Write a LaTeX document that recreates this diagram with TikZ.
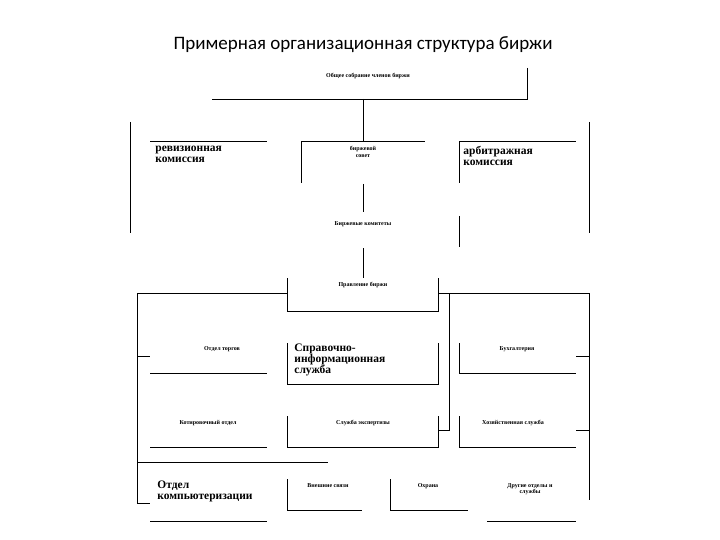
\documentclass[tikz,border=0pt]{standalone}
\usepackage{fontspec}
\setmainfont{Liberation Serif}
\newfontfamily\titlefont{Carlito}
\begin{document}
\begin{tikzpicture}[x=1pt,y=-1pt,line width=0.8pt,
    small/.style={font=\bfseries\fontsize{6}{6.5}\selectfont,inner sep=0pt,align=center},
    big/.style={font=\bfseries\fontsize{11.5}{11}\selectfont,inner sep=0pt,align=left,anchor=north west}]
    \useasboundingbox (0,0) rectangle (720,540);

    % Title
    \node[font=\titlefont\fontsize{19}{19}\selectfont] (title) at (363,45) {Примерная организационная структура биржи};

    % General meeting
    \node[small] (meeting) at (368,76) {Общее собрание членов биржи};
    \draw (527,68) -- (527,99) -- (212,99);
    \draw (363,99) -- (363,141);

    % Council and commissions
    \draw (130,122) -- (130,233);
    \draw (150,141) -- (267,141);
    \node[big] (audit) at (155,146) {ревизионная\\комиссия};
    \draw (301,183) -- (301,141) -- (425,141);
    \node[small] (council) at (363,152) {биржевой\\совет};
    \draw (459,183) -- (459,141) -- (576,141);
    \draw (459,216) -- (459,247);
    \node[big] (arbitr) at (463,146) {арбитражная\\комиссия};
    \draw (589,122) -- (589,233);

    % Committees and board
    \draw (363,184) -- (363,212);
    \node[small] (committees) at (363,224) {Биржевые комитеты};
    \draw (363,248) -- (363,278);
    \node[small] (board) at (363,285) {Правление биржи};
    \draw (287,278) -- (287,311) -- (438,311) -- (438,278);

    % Side branches
    \draw (287,293) -- (137,293) -- (137,503) -- (150,503);
    \draw (137,356) -- (150,356);
    \draw (137,462) -- (328,462);
    \draw (438,293) -- (449,293) -- (449,430) -- (438,430);
    \draw (450,293) -- (589,293) -- (589,500);
    \draw (576,356) -- (589,356);
    \draw (576,430) -- (589,430);

    % Departments
    \node[small] (trade) at (222,349) {Отдел торгов};
    \draw (150,373) -- (267,373);
    \node[big] (info) at (294,343) {Справочно-\\информационная\\служба};
    \draw (287,343) -- (287,384) -- (438,384) -- (438,343);
    \node[small] (account) at (517,349) {Бухгалтерия};
    \draw (459,343) -- (459,373) -- (576,373);

    \node[small] (quote) at (208,423) {Котировочный отдел};
    \draw (150,447) -- (267,447);
    \node[small] (expert) at (363,423) {Служба экспертизы};
    \draw (287,416) -- (287,447) -- (438,447) -- (438,416);
    \node[small] (house) at (513,423) {Хозяйственная служба};
    \draw (459,416) -- (459,447) -- (576,447);

    \node[big] (comp) at (157,480) {Отдел\\компьютеризации};
    \draw (150,521) -- (267,521);
    \node[small] (extern) at (328,486) {Внешние связи};
    \draw (287,479) -- (287,510) -- (362,510);
    \node[small] (guard) at (428,486) {Охрана};
    \draw (390,479) -- (390,510) -- (468,510);
    \node[small] (other) at (530,489) {Другие отделы и\\службы};
    \draw (487,521) -- (576,521);
\end{tikzpicture}
\end{document}
